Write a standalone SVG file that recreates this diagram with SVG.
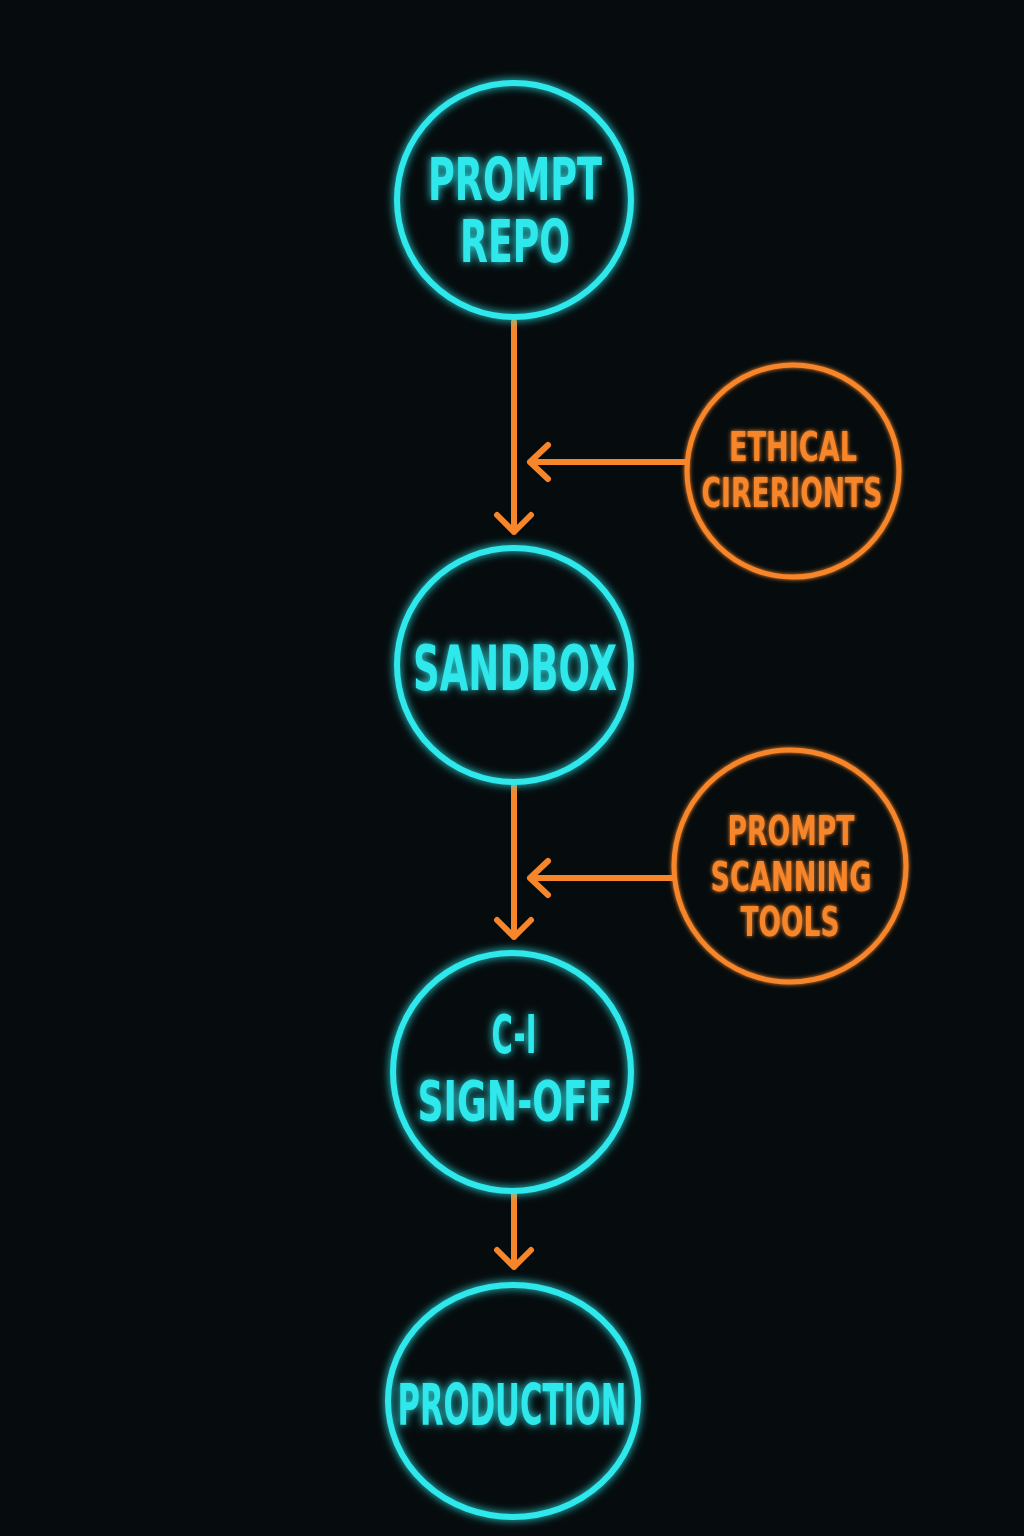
<svg xmlns="http://www.w3.org/2000/svg" width="1024" height="1536" viewBox="0 0 1024 1536">
<defs>
<filter id="glow" x="-30%" y="-30%" width="160%" height="160%">
<feGaussianBlur in="SourceGraphic" stdDeviation="4" result="b"/>
<feMerge><feMergeNode in="b"/><feMergeNode in="SourceGraphic"/></feMerge>
</filter>
<filter id="glow2" x="-30%" y="-30%" width="160%" height="160%">
<feGaussianBlur in="SourceGraphic" stdDeviation="2" result="b"/>
<feMerge><feMergeNode in="b"/><feMergeNode in="SourceGraphic"/></feMerge>
</filter>
</defs>
<style>
.cy{fill:none;stroke:#2ee8ec;stroke-width:6}
.or{fill:none;stroke:#f7862a;stroke-width:5}
.tc{fill:#2ee8ec;font-family:"DejaVu Sans Condensed","Liberation Sans Narrow","Liberation Sans",sans-serif;font-weight:bold;text-anchor:middle}
.to{fill:#f7862a;font-family:"DejaVu Sans Condensed","Liberation Sans Narrow","Liberation Sans",sans-serif;font-weight:bold;text-anchor:middle}
.ln{fill:none;stroke:#f7862a;stroke-width:6;stroke-linecap:round;stroke-linejoin:round}
</style>
<rect width="1024" height="1536" fill="#060c0e"/>
<g id="connectors">
<path class="ln" d="M514 322 V532 M497 515 L514 532 L531 515"/>
<path class="ln" d="M686 462 H530 M548 445 L530 462 L548 479"/>
<path class="ln" d="M514 786 V937 M497 920 L514 937 L531 920"/>
<path class="ln" d="M673 878 H530 M548 861 L530 878 L548 895"/>
<path class="ln" d="M514 1194 V1267 M497 1250 L514 1267 L531 1250"/>
</g>
<g id="prompt-repo" filter="url(#glow)">
<circle class="cy" cx="514" cy="200" r="117"/>
<text class="tc" x="515" y="200" font-size="58" textLength="174" lengthAdjust="spacingAndGlyphs">PROMPT</text>
<text class="tc" x="515" y="262" font-size="58" textLength="110" lengthAdjust="spacingAndGlyphs">REPO</text>
</g>
<g id="sandbox" filter="url(#glow)">
<circle class="cy" cx="514" cy="665" r="117"/>
<text class="tc" x="515" y="690" font-size="62" textLength="204" lengthAdjust="spacingAndGlyphs">SANDBOX</text>
</g>
<g id="ci-sign-off" filter="url(#glow)">
<circle class="cy" cx="512" cy="1072" r="119"/>
<text class="tc" x="514" y="1053" font-size="54" textLength="45" lengthAdjust="spacingAndGlyphs">C-I</text>
<text class="tc" x="515" y="1120" font-size="56" textLength="195" lengthAdjust="spacingAndGlyphs">SIGN-OFF</text>
</g>
<g id="production" filter="url(#glow)">
<ellipse class="cy" cx="513" cy="1401" rx="125" ry="116"/>
<text class="tc" x="512" y="1425" font-size="57" textLength="229" lengthAdjust="spacingAndGlyphs">PRODUCTION</text>
</g>
<g id="ethical-cirerionts" filter="url(#glow2)">
<circle class="or" cx="793" cy="471" r="106"/>
<text class="to" x="793" y="461" font-size="41" textLength="128" lengthAdjust="spacingAndGlyphs">ETHICAL</text>
<text class="to" x="792" y="507" font-size="41" textLength="181" lengthAdjust="spacingAndGlyphs">CIRERIONTS</text>
</g>
<g id="prompt-scanning-tools" filter="url(#glow2)">
<circle class="or" cx="790" cy="866" r="116"/>
<text class="to" x="791" y="845" font-size="41" textLength="127" lengthAdjust="spacingAndGlyphs">PROMPT</text>
<text class="to" x="791" y="891" font-size="41" textLength="161" lengthAdjust="spacingAndGlyphs">SCANNING</text>
<text class="to" x="790" y="936" font-size="41" textLength="99" lengthAdjust="spacingAndGlyphs">TOOLS</text>
</g>
</svg>
